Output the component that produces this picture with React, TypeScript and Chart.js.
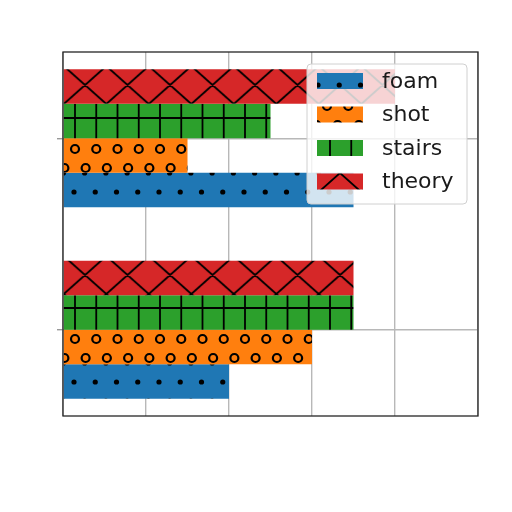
import { useEffect, useRef } from "react"
import { Chart, registerables } from "chart.js"

Chart.register(...registerables)

// two groups, placed at y = 0 (top) and y = 1 (bottom)
const groupPositions = [0, 1]
const seriesNames = ["foam", "shot", "stairs", "theory"]
const foam = [3.5, 2.0]
const shot = [1.5, 3.0]
const stairs = [2.5, 3.5]
const theory = [4.0, 3.5]
const xTicks = [0, 1, 2, 3, 4, 5]

const colors = {
  foam: "#1f77b4",
  shot: "#ff7f0e",
  stairs: "#2ca02c",
  theory: "#d62728",
}
const hatchKind = { foam: "dots", shot: "rings", stairs: "plus", theory: "cross" }

const TW = 85
const TH = 38
const COL = TW / 4

function drawTile(g, kind) {
  g.strokeStyle = "#000"
  g.fillStyle = "#000"
  g.lineWidth = 1.8
  const offs = [-1, 0, 1]
  if (kind === "dots" || kind === "rings") {
    const pts = []
    for (let k = 0; k < 4; k++) {
      pts.push([k * COL, 0])
      pts.push([k * COL + COL / 2, TH / 2])
    }
    for (const [px, py] of pts) {
      for (const dx of offs) {
        for (const dy of offs) {
          g.beginPath()
          if (kind === "dots") {
            g.arc(px + dx * TW, py + dy * TH, 2.6, 0, Math.PI * 2)
            g.fill()
          } else {
            g.arc(px + dx * TW, py + dy * TH, 4, 0, Math.PI * 2)
            g.lineWidth = 2.2
            g.stroke()
          }
        }
      }
    }
  } else if (kind === "plus") {
    g.beginPath()
    for (let k = 0; k <= 4; k++) {
      g.moveTo(k * COL, 0)
      g.lineTo(k * COL, TH)
    }
    g.moveTo(0, 0)
    g.lineTo(TW, 0)
    g.moveTo(0, TH)
    g.lineTo(TW, TH)
    g.stroke()
  } else if (kind === "cross") {
    const cw = TW / 2
    g.beginPath()
    for (const dx of offs) {
      for (const dy of offs) {
        for (let k = 0; k < 2; k++) {
          const x0 = k * cw + dx * TW
          const y0 = dy * TH
          g.moveTo(x0, y0)
          g.lineTo(x0 + cw, y0 + TH)
          g.moveTo(x0 + cw, y0)
          g.lineTo(x0, y0 + TH)
        }
      }
    }
    g.stroke()
  }
}

function makePattern(ctx, kind, color, ox, oy) {
  const tile = document.createElement("canvas")
  tile.width = TW
  tile.height = TH
  const g = tile.getContext("2d")
  g.fillStyle = color
  g.fillRect(0, 0, TW, TH)
  drawTile(g, kind)
  const pat = ctx.createPattern(tile, "repeat")
  pat.setTransform(new DOMMatrix().translate(ox, oy))
  return pat
}

// where each hatch lines up in the bars and in the legend patches
const barAnchors = {
  foam: [74, 192],
  shot: [75, 149],
  stairs: [75, 118],
  theory: [63.75, 66],
}
const legendAnchors = {
  foam: [318, 85],
  shot: [327, 106],
  stairs: [330, 128],
  theory: [340, 173],
}

const framePlugin = {
  id: "frame",
  afterDraw(chart) {
    const { ctx, chartArea: a } = chart
    ctx.save()
    ctx.strokeStyle = "#262626"
    ctx.lineWidth = 1.3
    ctx.strokeRect(a.left, a.top, a.right - a.left, a.bottom - a.top)
    ctx.restore()
  },
}

const legendPlugin = {
  id: "boxLegend",
  afterDraw(chart) {
    const ctx = chart.ctx
    ctx.save()
    const bx = 307, by = 64, bw = 160, bh = 140, r = 4
    ctx.beginPath()
    ctx.roundRect(bx, by, bw, bh, r)
    ctx.fillStyle = "rgba(255,255,255,0.8)"
    ctx.fill()
    ctx.strokeStyle = "#d0d0d0"
    ctx.lineWidth = 1
    ctx.stroke()
    ctx.font = "22px 'DejaVu Sans'"
    ctx.textBaseline = "middle"
    seriesNames.forEach((name, i) => {
      const cy = 81 + i * 33.5
      const [ox, oy] = legendAnchors[name]
      ctx.fillStyle = makePattern(ctx, hatchKind[name], colors[name], ox, oy)
      ctx.fillRect(317, cy - 8, 46, 16)
      ctx.fillStyle = "#1a1a1a"
      ctx.fillText(name, 382, cy + 1)
    })
    ctx.restore()
  },
}

export default function App() {
  const chartRef = useRef(null)
  const chartInstance = useRef(null)

  useEffect(() => {
    if (chartInstance.current) {
      chartInstance.current.destroy()
    }
    if (!chartRef.current) return

    const ctx = chartRef.current.getContext("2d")
    const values = { foam, shot, stairs, theory }

    // theory first so it sits on top of each group
    const order = ["theory", "stairs", "shot", "foam"]
    const datasets = order.map((name) => {
      const [ox, oy] = barAnchors[name]
      return {
        label: name,
        data: values[name].map((v, i) => ({ x: v, y: groupPositions[i] })),
        backgroundColor: makePattern(ctx, hatchKind[name], colors[name], ox, oy),
        borderWidth: 0,
        categoryPercentage: 0.72,
        barPercentage: 1,
      }
    })

    chartInstance.current = new Chart(ctx, {
      type: "bar",
      data: { datasets },
      options: {
        indexAxis: "y",
        animation: false,
        responsive: false,
        devicePixelRatio: 1,
        layout: { padding: { left: 57, right: 34, top: 52, bottom: 96 } },
        plugins: {
          legend: { display: false },
          tooltip: { enabled: false },
        },
        scales: {
          x: {
            type: "linear",
            min: xTicks[0],
            max: xTicks[xTicks.length - 1],
            z: 1,
            afterBuildTicks: (scale) => {
              scale.ticks = xTicks.map((v) => ({ value: v }))
            },
            ticks: { display: false },
            grid: { color: "#b8b8b8", lineWidth: 1.4, drawTicks: false },
            border: { display: false },
          },
          y: {
            type: "linear",
            min: -0.45,
            max: 1.45,
            reverse: true,
            offset: false,
            z: 1,
            afterBuildTicks: (scale) => {
              scale.ticks = groupPositions.map((v) => ({ value: v }))
            },
            ticks: { display: false },
            grid: {
              offset: false,
              color: "#b8b8b8",
              lineWidth: 1.4,
              drawTicks: true,
              tickLength: 6,
              tickColor: "#999",
            },
            border: { display: false },
          },
        },
      },
      plugins: [framePlugin, legendPlugin],
    })

    return () => {
      if (chartInstance.current) {
        chartInstance.current.destroy()
      }
    }
  }, [])

  return (
    <div style={{ position: "absolute", left: 0, top: 0, width: 512, height: 512, background: "#fff" }}>
      <canvas ref={chartRef} width={512} height={512} style={{ display: "block" }} />
    </div>
  )
}
